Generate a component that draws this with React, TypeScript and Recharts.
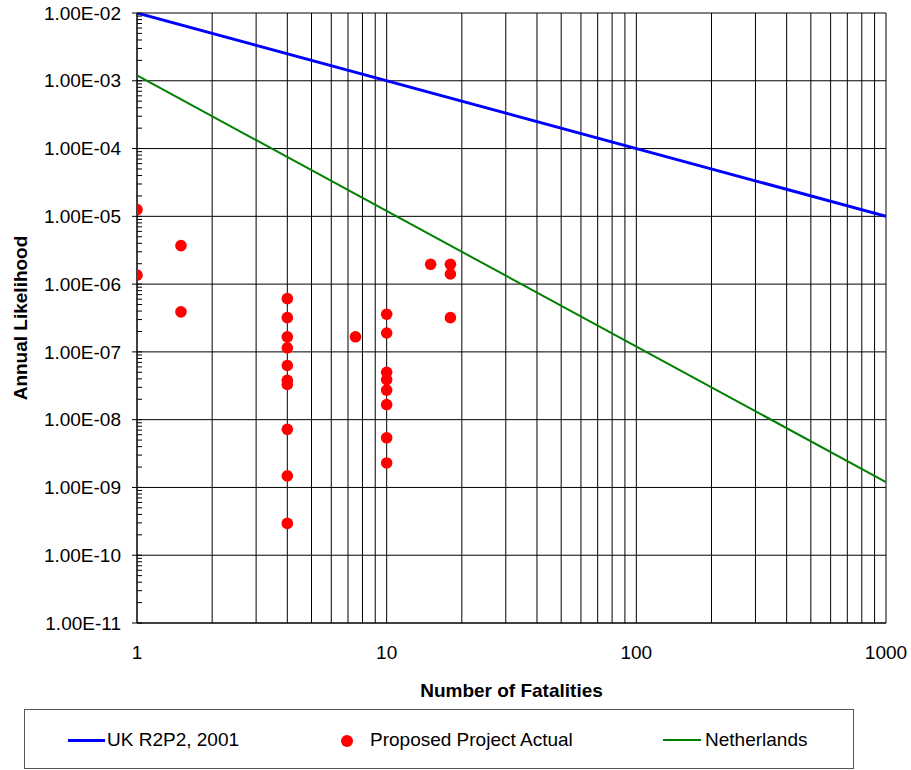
import { ScatterChart, Scatter, XAxis, YAxis, CartesianGrid, Label } from 'recharts';

const FONT = '"Liberation Sans", Arial, sans-serif';

// x axis: grid at every 1..9 per decade, labels only on decades
const xTicks = [1, 2, 3, 4, 5, 6, 7, 8, 9, 10, 20, 30, 40, 50, 60, 70, 80, 90, 100, 200, 300, 400, 500, 600, 700, 800, 900, 1000];
const yMajor = [1e-11, 1e-10, 1e-9, 1e-8, 1e-7, 1e-6, 1e-5, 1e-4, 1e-3, 1e-2];
const yMinor = yMajor.slice(0, -1).flatMap(d => [2, 3, 4, 5, 6, 7, 8, 9].map(m => m * d));

const ukLine = [
  { x: 1, y: 1e-2 },
  { x: 1000, y: 1e-5 },
];
const nlLine = [
  { x: 1, y: 1.2e-3 },
  { x: 1000, y: 1.2e-9 },
];

const fatalities = [1, 1, 1.5, 1.5, 4, 4, 4, 4, 4, 4, 4, 4, 4, 4, 7.5, 10, 10, 10, 10, 10, 10, 10, 10, 15, 18, 18, 18];
const likelihood = [
  1.26e-5, 1.36e-6, 3.7e-6, 3.9e-7,
  6.1e-7, 3.2e-7, 1.67e-7, 1.15e-7, 6.3e-8, 3.8e-8, 3.3e-8, 7.2e-9, 1.48e-9, 2.95e-10,
  1.67e-7,
  3.6e-7, 1.9e-7, 5.0e-8, 3.9e-8, 2.73e-8, 1.67e-8, 5.4e-9, 2.3e-9,
  1.96e-6, 1.96e-6, 1.41e-6, 3.2e-7,
];
const projectPoints = fatalities.map((x, i) => ({ x, y: likelihood[i] }));

const isDecade = (v: number) => Math.abs(Math.log10(v) - Math.round(Math.log10(v))) < 1e-9;

const fmtExp = (v: number) => {
  const e = Math.round(Math.log10(v));
  const s = Math.abs(e).toString().padStart(2, '0');
  return `1.00E${e < 0 ? '-' : '+'}${s}`;
};

const XTick = (props: any) => {
  const { x, y, payload } = props;
  if (!isDecade(payload.value)) return <g />;
  return (
    <text x={x} y={y + 36} textAnchor="middle" fontFamily={FONT} fontSize={19} fill="#000">
      {payload.value}
    </text>
  );
};

const YTick = (props: any) => {
  const { x, y, payload } = props;
  return (
    <g>
      <line x1={x - 5} x2={x + 5} y1={y} y2={y} stroke="#000" />
      <text x={x - 16} y={y} dy="0.35em" textAnchor="end" fontFamily={FONT} fontSize={19} fill="#000">
        {fmtExp(payload.value)}
      </text>
    </g>
  );
};

const MinorTick = (props: any) => {
  const { x, y } = props;
  return <line x1={x} x2={x + 5} y1={y} y2={y} stroke="#000" />;
};

const noDot = () => <g />;

export default function App() {
  return (
    <div style={{ position: 'absolute', left: 0, top: 0, width: 911, height: 770, background: '#fff' }}>
      <ScatterChart width={911} height={770} margin={{ top: 13, right: 25, left: 0, bottom: 0 }}>
        <CartesianGrid stroke="#000" strokeWidth={1} />
        <XAxis
          type="number"
          dataKey="x"
          scale="log"
          domain={[1, 1000]}
          ticks={xTicks}
          interval={0}
          allowDataOverflow
          height={147}
          tickLine={false}
          tickSize={0}
          tickMargin={0}
          axisLine={{ stroke: '#000' }}
          tick={<XTick />}
        >
          <Label
            content={(p: any) => {
              const vb = p.viewBox;
              return (
                <text x={vb.x + vb.width / 2} y={vb.y + 74} textAnchor="middle" fontFamily={FONT} fontSize={19} fontWeight="bold" fill="#000">
                  Number of Fatalities
                </text>
              );
            }}
          />
        </XAxis>
        <YAxis
          yAxisId="minor"
          type="number"
          dataKey="y"
          scale="log"
          domain={[1e-11, 1e-2]}
          ticks={yMinor}
          interval={0}
          allowDataOverflow
          mirror
          axisLine={false}
          tickLine={false}
          tickSize={0}
          tickMargin={0}
          tick={<MinorTick />}
        />
        <YAxis
          type="number"
          dataKey="y"
          scale="log"
          domain={[1e-11, 1e-2]}
          ticks={yMajor}
          interval={0}
          allowDataOverflow
          width={137}
          tickLine={false}
          tickSize={0}
          tickMargin={0}
          axisLine={{ stroke: '#000' }}
          tick={<YTick />}
        >
          <Label
            content={(p: any) => {
              const vb = p.viewBox;
              const cx = vb.x + 20;
              const cy = vb.y + vb.height / 2;
              return (
                <text x={cx} y={cy} transform={`rotate(-90 ${cx} ${cy})`} dy="0.35em" textAnchor="middle" fontFamily={FONT} fontSize={19} fontWeight="bold" fill="#000">
                  Annual Likelihood
                </text>
              );
            }}
          />
        </YAxis>
        <Scatter name="UK R2P2, 2001" data={ukLine} line={{ stroke: '#0000FF', strokeWidth: 3 }} shape={noDot} isAnimationActive={false} />
        <Scatter name="Netherlands" data={nlLine} line={{ stroke: '#008000', strokeWidth: 2 }} shape={noDot} isAnimationActive={false} />
        <Scatter name="Proposed Project Actual" data={projectPoints} fill="#FF0000" shape={(p: any) => <circle cx={p.cx} cy={p.cy} r={5.8} fill="#FF0000" />} isAnimationActive={false} />
      </ScatterChart>
      <div
        style={{
          position: 'absolute',
          left: 24,
          top: 709,
          width: 828,
          height: 58,
          border: '1px solid #555',
          fontFamily: FONT,
          fontSize: 19,
          color: '#000',
        }}
      >
        <div style={{ position: 'absolute', left: 43, top: 29, width: 37, height: 3, background: '#0000FF' }} />
        <span style={{ position: 'absolute', left: 82, top: 19 }}>UK R2P2, 2001</span>
        <div style={{ position: 'absolute', left: 316, top: 25, width: 12, height: 12, borderRadius: 6, background: '#FF0000' }} />
        <span style={{ position: 'absolute', left: 345, top: 19 }}>Proposed Project Actual</span>
        <div style={{ position: 'absolute', left: 638, top: 29, width: 38, height: 2, background: '#008000' }} />
        <span style={{ position: 'absolute', left: 680, top: 19 }}>Netherlands</span>
      </div>
    </div>
  );
}
